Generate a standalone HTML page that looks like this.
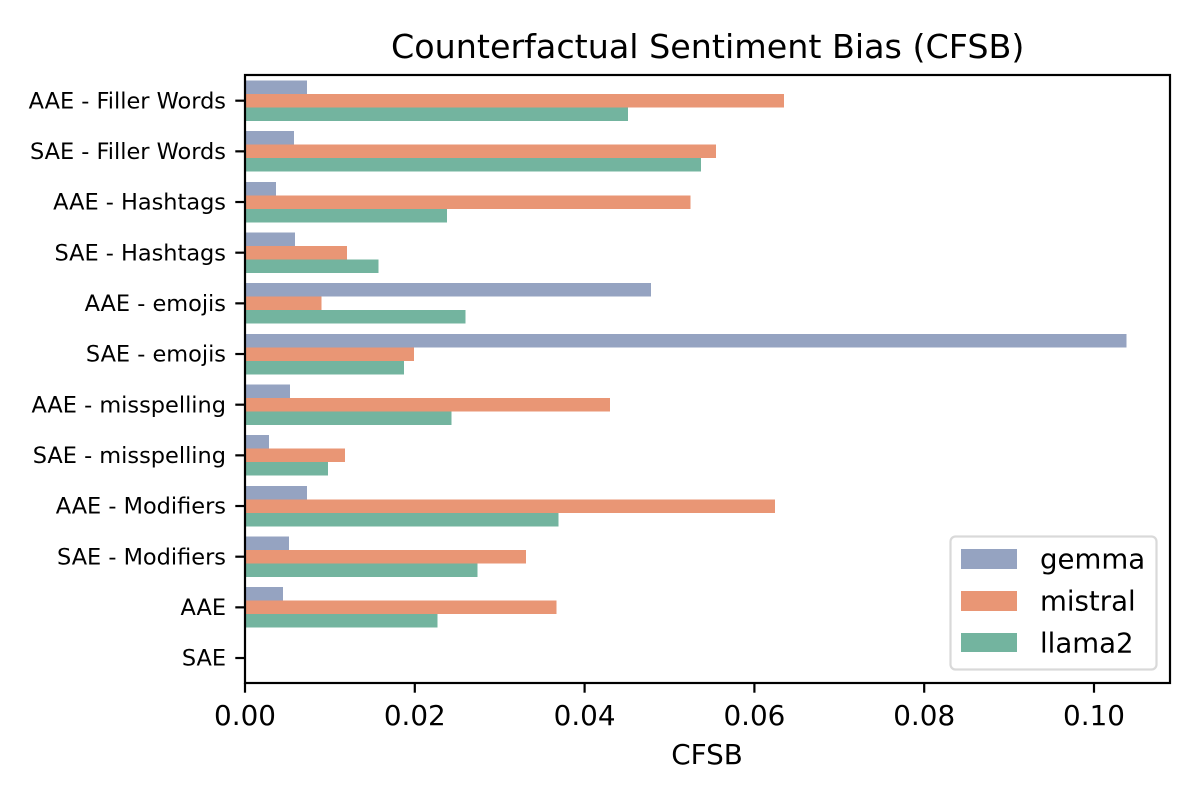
<!DOCTYPE html>
<html>
<head>
<meta charset="utf-8">
<title>Counterfactual Sentiment Bias (CFSB)</title>
<style>
html,body{margin:0;padding:0;background:#fff;}
svg{display:block;}
text{font-family:"DejaVu Sans","Liberation Sans",sans-serif;fill:#000;}
</style>
</head>
<body>
<svg id="chart" xmlns="http://www.w3.org/2000/svg" width="1200" height="800" viewBox="0 0 1200 800">
  <rect x="0" y="0" width="1200" height="800" fill="#ffffff"/>
  <g id="bars" shape-rendering="crispEdges"></g>
  <g id="axes"></g>
  <text x="707.7" y="58" text-anchor="middle" font-size="33.35">Counterfactual Sentiment Bias (CFSB)</text>
  <text x="707" y="764" text-anchor="middle" font-size="27.8">CFSB</text>
  <g id="legend"></g>
</svg>
<script>
const categories = ["AAE - Filler Words","SAE - Filler Words","AAE - Hashtags","SAE - Hashtags","AAE - emojis","SAE - emojis","AAE - misspelling","SAE - misspelling","AAE - Modifiers","SAE - Modifiers","AAE","SAE"];
const seriesNames = ["gemma","mistral","llama2"];
const gemma = [0.0073,0.0058,0.00365,0.0059,0.0478,0.1038,0.0053,0.0028,0.0073,0.0052,0.0045,0];
const mistral = [0.0635,0.0555,0.0525,0.012,0.009,0.0199,0.043,0.0118,0.0624,0.0331,0.0367,0];
const llama2 = [0.0451,0.0537,0.0238,0.0157,0.026,0.0187,0.0243,0.0098,0.0369,0.0274,0.0227,0];
const xTicks = [0,0.02,0.04,0.06,0.08,0.10];
const xTickLabels = ["0.00","0.02","0.04","0.06","0.08","0.10"];

const NS = "http://www.w3.org/2000/svg";
const plot = {left:245, right:1170, top:75, bottom:683};
const pxPerUnit = 8490;
const colors = ["#95a3c1","#e99675","#73b49f"];
const allSeries = [gemma, mistral, llama2];

function xScale(v){ return plot.left + v * pxPerUnit; }
function band(){ return (plot.bottom - plot.top) / categories.length; }
function yCenter(i){ return plot.top + 0.35 + band() * (i + 0.5); }
function barHeight(){ return band() * 0.8 / allSeries.length; }
function barTop(i, s){ return yCenter(i) - band() * 0.4 + s * barHeight(); }

function make(tag, attrs, parent){
  const el = document.createElementNS(NS, tag);
  for (const k in attrs) el.setAttribute(k, attrs[k]);
  parent.appendChild(el);
  return el;
}

const barsG = document.getElementById("bars");
const axesG = document.getElementById("axes");
const legendG = document.getElementById("legend");

allSeries.forEach(function(values, s){
  values.forEach(function(v, i){
    if (v <= 0) return;
    const bar = make("rect", {x:xScale(0), y:barTop(i, s), width:xScale(v)-xScale(0), height:barHeight(), fill:colors[s]}, barsG);
    
    
  });
});

const frame = make("rect", {x:plot.left, y:plot.top, width:plot.right-plot.left, height:plot.bottom-plot.top, fill:"none", stroke:"#000", "stroke-width":2.2}, axesG);



xTicks.forEach(function(t, i){
  const x = xScale(t);
  const tick = make("line", {x1:x, x2:x, y1:plot.bottom, y2:plot.bottom+9.7, stroke:"#000", "stroke-width":2.2}, axesG);
  
  
  const label = make("text", {x:x, y:725, "text-anchor":"middle", "font-size":27.8}, axesG);
  label.textContent = xTickLabels[i];
  
  
});

categories.forEach(function(c, i){
  const y = yCenter(i);
  const tick = make("line", {x1:plot.left-9.7, x2:plot.left, y1:y, y2:y, stroke:"#000", "stroke-width":2.2}, axesG);
  
  
  const label = make("text", {x:226, y:y+7.6, "text-anchor":"end", "font-size":22.45}, axesG);
  label.textContent = c;
  
  
});

const legendBox = make("rect", {x:950.5, y:536.5, width:206, height:133, rx:5, ry:5, fill:"#ffffff", "fill-opacity":0.8, stroke:"#d9d9d9", "stroke-width":2.2}, legendG);



seriesNames.forEach(function(name, s){
  const rowY = 549 + s * 42;
  const swatch = make("rect", {x:961, y:rowY, width:56, height:s === 2 ? 19 : 20, fill:colors[s]}, legendG);
  
  
  const label = make("text", {x:1040, y:rowY+19.5, "font-size":27.6}, legendG);
  label.textContent = name;
  
  
});
</script>
</body>
</html>
